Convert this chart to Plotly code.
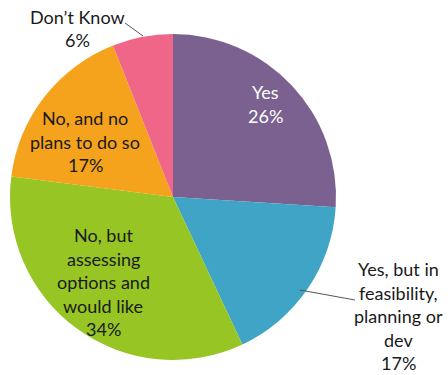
import plotly.graph_objects as go

# Survey responses
categories = ["Yes", "Yes, but in feasibility, planning or dev",
              "No, but assessing options and would like",
              "No, and no plans to do so", "Don't Know"]
shares = [26, 17, 34, 17, 6]
colors = ["#7B6190", "#3FA4C6", "#96C524", "#F5A31C", "#EF6689"]

# Label text lines per slice (last line is the percentage)
label_lines = [
    ["Yes"],
    ["Yes, but in", "feasibility,", "planning or", "dev"],
    ["No, but", "assessing", "options and", "would like"],
    ["No, and no", "plans to do so"],
    ["Don\u2019t Know"],
]
# label anchor (x px, y px of first line), text colour
label_pos = [(265, 92, "white"), (398, 269, "#1a1a1a"), (103, 235, "#1a1a1a"),
             (85, 118, "#1a1a1a"), (77, 17, "#1a1a1a")]

W, H = 448, 375
LINE = 23.5

fig = go.Figure(go.Pie(
    labels=categories, values=shares, sort=False, direction="clockwise",
    rotation=0, marker=dict(colors=colors, line=dict(width=0)),
    textinfo="none", hoverinfo="label+percent", showlegend=False,
    domain=dict(x=[10 / W, 336 / W], y=[1 - 360 / H, 1 - 34 / H]),
))

annotations = []
for lines, share, (x, y, col) in zip(label_lines, shares, label_pos):
    for i, t in enumerate(lines + [f"{share}%"]):
        annotations.append(dict(
            x=x / W, y=1 - (y + i * LINE) / H, xref="paper", yref="paper",
            text=t, showarrow=False, xanchor="center", yanchor="middle",
            borderpad=0, font=dict(family="Lato", size=18, color=col)))

# leader lines for the outside labels
shapes = [
    dict(type="line", xref="paper", yref="paper", x0=300 / W, y0=1 - 290 / H,
         x1=355 / W, y1=1 - 300 / H, line=dict(color="#555555", width=1)),
    dict(type="line", xref="paper", yref="paper", x0=125 / W, y0=1 - 23 / H,
         x1=143 / W, y1=1 - 36 / H, line=dict(color="#555555", width=1)),
]

fig.update_layout(width=W, height=H, margin=dict(l=0, r=0, t=0, b=0),
                  paper_bgcolor="white", plot_bgcolor="white",
                  annotations=annotations, shapes=shapes)
fig.write_html("out.html")
